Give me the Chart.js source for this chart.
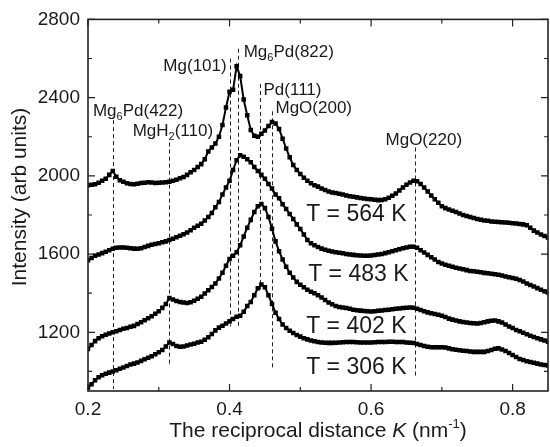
<!DOCTYPE html>
<html><head><meta charset="utf-8">
<script src="https://cdn.jsdelivr.net/npm/chart.js@4.4.1/dist/chart.umd.min.js"></script>
<style>
html,body{margin:0;padding:0;background:#fff;overflow:hidden;}
#wrap{position:relative;width:552px;height:447px;}
</style></head><body>
<div id="wrap"><canvas id="c"></canvas></div>
<script>
// ---- data ----
const K = [
0.200,0.205,0.210,0.215,0.220,0.225,0.230,0.235,0.240,0.245,
0.250,0.255,0.260,0.265,0.270,0.275,0.280,0.285,0.290,0.295,
0.300,0.305,0.310,0.315,0.320,0.325,0.330,0.335,0.340,0.345,
0.350,0.355,0.360,0.365,0.370,0.375,0.380,0.385,0.390,0.395,
0.400,0.405,0.410,0.415,0.420,0.425,0.430,0.435,0.440,0.445,
0.450,0.455,0.460,0.465,0.470,0.475,0.480,0.485,0.490,0.495,
0.500,0.505,0.510,0.515,0.520,0.525,0.530,0.535,0.540,0.545,
0.550,0.555,0.560,0.565,0.570,0.575,0.580,0.585,0.590,0.595,
0.600,0.605,0.610,0.615,0.620,0.625,0.630,0.635,0.640,0.645,
0.650,0.655,0.660,0.665,0.670,0.675,0.680,0.685,0.690,0.695,
0.700,0.705,0.710,0.715,0.720,0.725,0.730,0.735,0.740,0.745,
0.750,0.755,0.760,0.765,0.770,0.775,0.780,0.785,0.790,0.795,
0.800,0.805,0.810,0.815,0.820,0.825,0.830,0.835,0.840,0.845,
0.850];
const I564 = [
1952,1955,1957,1965,1975,1985,2005,2025,1995,1978,
1970,1962,1958,1957,1960,1963,1965,1967,1966,1964,
1965,1966,1967,1970,1975,1980,1988,1994,2005,2018,
2030,2045,2060,2085,2125,2145,2165,2200,2260,2350,
2430,2440,2560,2510,2390,2310,2235,2205,2200,2215,
2232,2255,2275,2268,2240,2190,2140,2095,2055,2030,
2010,1990,1975,1962,1952,1945,1935,1928,1920,1915,
1912,1908,1905,1900,1896,1893,1890,1887,1884,1882,
1880,1878,1876,1877,1880,1888,1898,1910,1925,1940,
1955,1966,1975,1972,1958,1940,1920,1900,1880,1862,
1845,1835,1828,1822,1815,1808,1800,1795,1790,1785,
1780,1776,1772,1770,1767,1765,1764,1763,1762,1760,
1758,1756,1754,1752,1748,1735,1720,1710,1700,1692,
1685];
const I483 = [
1568,1580,1592,1598,1605,1612,1620,1627,1632,1634,
1634,1632,1630,1628,1627,1630,1636,1642,1648,1652,
1656,1660,1665,1672,1678,1686,1694,1702,1710,1722,
1735,1745,1755,1772,1790,1810,1840,1866,1905,1940,
1975,2030,2080,2105,2098,2085,2070,2045,2025,2005,
1985,1958,1935,1905,1885,1855,1830,1805,1780,1752,
1728,1700,1672,1655,1645,1636,1628,1622,1617,1613,
1610,1607,1604,1601,1598,1596,1594,1593,1592,1592,
1593,1595,1598,1601,1605,1610,1615,1620,1625,1630,
1634,1637,1638,1632,1620,1608,1596,1584,1572,1560,
1552,1545,1540,1535,1530,1526,1522,1518,1514,1512,
1510,1507,1504,1502,1500,1497,1494,1490,1486,1482,
1478,1474,1468,1460,1450,1442,1434,1426,1418,1410,
1404];
const I402 = [
1115,1135,1155,1170,1180,1188,1194,1200,1205,1212,
1218,1222,1228,1233,1242,1252,1262,1272,1282,1295,
1308,1325,1345,1375,1368,1360,1355,1352,1350,1354,
1362,1372,1382,1398,1415,1432,1450,1475,1505,1540,
1575,1592,1610,1645,1690,1735,1775,1815,1845,1856,
1835,1790,1730,1665,1615,1572,1535,1505,1480,1458,
1443,1430,1418,1408,1400,1390,1378,1365,1352,1343,
1335,1330,1327,1324,1320,1316,1313,1311,1309,1308,
1307,1308,1310,1312,1314,1316,1318,1320,1322,1324,
1326,1327,1326,1320,1314,1308,1302,1298,1294,1290,
1285,1278,1270,1265,1260,1256,1253,1250,1248,1246,
1245,1248,1252,1256,1259,1260,1256,1250,1240,1230,
1222,1212,1205,1198,1190,1183,1176,1170,1164,1158,
1152];
const I306 = [
918,935,955,970,980,988,994,1000,1006,1014,
1020,1028,1035,1040,1046,1054,1062,1070,1078,1088,
1098,1110,1128,1148,1140,1130,1126,1128,1133,1138,
1142,1148,1152,1162,1175,1192,1210,1224,1234,1245,
1256,1268,1280,1285,1305,1335,1355,1390,1425,1445,
1430,1390,1345,1300,1268,1240,1222,1208,1196,1186,
1178,1170,1164,1158,1154,1150,1148,1147,1146,1146,
1147,1148,1149,1150,1150,1150,1149,1148,1148,1148,
1148,1149,1150,1150,1151,1152,1152,1151,1150,1150,
1148,1147,1145,1140,1135,1130,1126,1124,1124,1124,
1124,1122,1118,1114,1111,1108,1106,1104,1102,1100,
1100,1100,1100,1104,1110,1116,1118,1112,1104,1094,
1084,1074,1064,1058,1052,1048,1044,1040,1036,1033,
1030];
const seriesNames = ['T = 564 K','T = 483 K','T = 402 K','T = 306 K'];
// reference (dashed) lines: position K, top and bottom intensity
const refK      = [0.235, 0.315, 0.400, 0.412, 0.4425, 0.460, 0.662];
const refTop    = [2285,  2170,  2600,  2650,  2470,   2330,  2145];
const refBottom = [910,   1030,  1230,  1225,  1420,   1020,  965];
// peak labels: text parts (s = subscript), anchor K / intensity (left, baseline)
const peakParts = [
  [['Mg'],['6','s'],['Pd(422)']],
  [['MgH'],['2','s'],['(110)']],
  [['Mg(101)']],
  [['Mg'],['6','s'],['Pd(822)']],
  [['Pd(111)']],
  [['MgO(200)']],
  [['MgO(220)']]
];
const peakK = [0.207, 0.2631, 0.3065, 0.420, 0.448, 0.4649, 0.6204];
const peakI = [2305,  2204,   2538,   2608,  2411,  2320,   2159];
// temperature labels anchors
const tempK = [0.5083, 0.5111, 0.5083, 0.5083];
const tempI = [1770, 1462, 1195, 988];
const xTicksMajor = [0.2, 0.4, 0.6, 0.8];
const yTicksMajor = [1200, 1600, 2000, 2400, 2800];

// ---- styles ----
const FF = '"Liberation Sans", Arial, Helvetica, sans-serif';
const TXT = '#1a1a1a';

function mk(vals){ return K.map((k,i)=>({x:k,y:vals[i]})); }
const datasets = [I564,I483,I402,I306].map((v,i)=>({
  label: seriesNames[i], data: mk(v),
  borderColor:'#000', borderWidth:2, pointStyle:'rect', pointRadius:3.2,
  pointBackgroundColor:'#000', pointBorderWidth:0, tension:0, fill:false
}));

function isMajX(v){ return xTicksMajor.some(t=>Math.abs(t-v)<1e-6); }
function isMajY(v){ return yTicksMajor.includes(Math.round(v)); }

function drawParts(ctx, parts, x, y, size){
  let cx = x;
  parts.forEach(p=>{
    if(p[1]==='s'){
      ctx.font = Math.round(size*0.65)+'px '+FF;
      ctx.fillText(p[0], cx, y+4);
    } else {
      ctx.font = size+'px '+FF;
      ctx.fillText(p[0], cx, y);
    }
    cx += ctx.measureText(p[0]).width;
  });
}

const deco = {
  id:'deco',
  beforeDatasetsDraw(chart){
    const {ctx, scales:{x,y}} = chart;
    ctx.save();
    ctx.strokeStyle='#222'; ctx.lineWidth=1; ctx.setLineDash([4,3]);
    refK.forEach((k,i)=>{
      const px = Math.round(x.getPixelForValue(k))+0.5;
      ctx.beginPath();
      ctx.moveTo(px, y.getPixelForValue(refTop[i]));
      ctx.lineTo(px, y.getPixelForValue(refBottom[i]));
      ctx.stroke();
    });
    ctx.restore();
  },
  afterDatasetsDraw(chart){
    const {ctx, chartArea:a, scales:{x,y}} = chart;
    ctx.save();
    // frame
    ctx.strokeStyle='#222'; ctx.lineWidth=1.6;
    ctx.strokeRect(a.left, a.top, a.right-a.left, a.bottom-a.top);
    // ticks (inward, all sides)
    ctx.lineWidth=1.2;
    x.ticks.forEach(t=>{
      const px = x.getPixelForValue(t.value);
      const L = isMajX(t.value)?7:4;
      ctx.beginPath();
      ctx.moveTo(px,a.bottom); ctx.lineTo(px,a.bottom-L);
      ctx.moveTo(px,a.top); ctx.lineTo(px,a.top+L);
      ctx.stroke();
    });
    y.ticks.forEach(t=>{
      const py = y.getPixelForValue(t.value);
      const L = isMajY(t.value)?7:4;
      ctx.beginPath();
      ctx.moveTo(a.left,py); ctx.lineTo(a.left+L,py);
      ctx.moveTo(a.right,py); ctx.lineTo(a.right-L,py);
      ctx.stroke();
    });
    // peak labels
    ctx.fillStyle=TXT; ctx.textAlign='left'; ctx.textBaseline='alphabetic';
    peakParts.forEach((parts,i)=>{
      drawParts(ctx, parts, x.getPixelForValue(peakK[i]), y.getPixelForValue(peakI[i]), 17);
    });
    // temperature labels
    ctx.font='23px '+FF;
    seriesNames.forEach((n,i)=>{
      ctx.fillText(n, x.getPixelForValue(tempK[i]), y.getPixelForValue(tempI[i]));
    });
    // x title
    const size=21;
    const xparts=[['The reciprocal distance ','n'],['K','i'],[' (nm','n'],['-1','sup'],[')','n']];
    const fontOf=p=> p[1]==='i' ? 'italic '+size+'px '+FF : (p[1]==='sup' ? Math.round(size*0.6)+'px '+FF : size+'px '+FF);
    let tw=0; xparts.forEach(p=>{ctx.font=fontOf(p); tw+=ctx.measureText(p[0]).width;});
    let cx=(a.left+a.right)/2 - tw/2; const by=437;
    xparts.forEach(p=>{ctx.font=fontOf(p); ctx.fillText(p[0],cx,p[1]==='sup'?by-9:by); cx+=ctx.measureText(p[0]).width;});
    // y title
    ctx.save();
    ctx.translate(26,197); ctx.rotate(-Math.PI/2);
    ctx.font=size+'px '+FF; ctx.textAlign='center';
    ctx.fillText('Intensity (arb units)',0,0);
    ctx.restore();
    ctx.restore();
  }
};

new Chart(document.getElementById('c'),{
  type:'line',
  data:{datasets},
  plugins:[deco],
  options:{
    responsive:true, maintainAspectRatio:false, animation:false,
    layout:{padding:{top:15,right:0,left:0,bottom:0}},
    plugins:{legend:{display:false}, tooltip:{enabled:false}},
    scales:{
      x:{type:'linear',min:0.2,max:0.85,
        grid:{display:false,drawTicks:false},border:{display:false},
        ticks:{stepSize:0.1,includeBounds:false,autoSkip:false,maxRotation:0,padding:7,color:TXT,
          font:{family:FF,size:19},
          callback:v=> isMajX(v)? v.toFixed(1):''},
        afterFit:s=>{s.height=56;}},
      y:{type:'linear',min:900,max:2800,
        grid:{display:false,drawTicks:false},border:{display:false},
        ticks:{stepSize:200,includeBounds:false,autoSkip:false,padding:8,color:TXT,
          font:{family:FF,size:19},
          callback:v=> isMajY(v)? String(v):''},
        afterFit:s=>{s.width=88;}}
    }
  }
});
</script>
</body></html>
